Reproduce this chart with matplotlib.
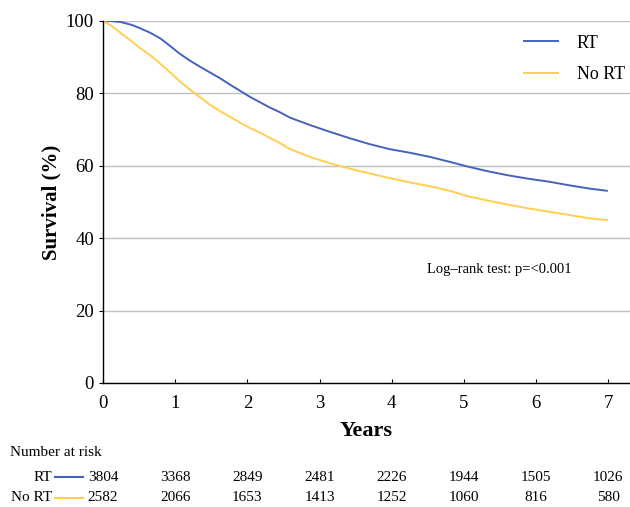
import matplotlib.pyplot as plt
from matplotlib.transforms import blended_transform_factory

plt.rcParams['font.family'] = ['Liberation Serif', 'DejaVu Serif']

# Kaplan-Meier curves
years = [0, 0.1, 0.25, 0.4, 0.5, 0.65, 0.8, 0.93, 1.06, 1.2, 1.34, 1.48, 1.62,
         1.76, 1.9, 2.03, 2.17, 2.31, 2.45, 2.59, 2.86, 3.14, 3.42, 3.69, 3.97,
         4.25, 4.52, 4.8, 5.07, 5.35, 5.63, 5.9, 6.18, 6.46, 6.74, 6.98]
rt = [100, 100, 99.7, 98.9, 98.1, 96.8, 95.1, 93.1, 91.0, 89.1, 87.4, 85.8, 84.2,
      82.4, 80.7, 79.1, 77.6, 76.1, 74.8, 73.3, 71.3, 69.4, 67.6, 66, 64.6,
      63.6, 62.5, 61.1, 59.7, 58.4, 57.3, 56.4, 55.6, 54.6, 53.7, 53.1]
no_rt = [100, 98.9, 96.6, 94.3, 92.7, 90.6, 88.1, 85.8, 83.4, 81.1, 79.0, 76.9, 75.1,
         73.5, 71.9, 70.5, 69.2, 67.7, 66.3, 64.6, 62.5, 60.7, 59.2, 57.9, 56.6,
         55.4, 54.4, 53.1, 51.5, 50.3, 49.2, 48.2, 47.3, 46.4, 45.5, 45.0]

risk_years = [0, 1, 2, 3, 4, 5, 6, 7]
risk_rt = [3804, 3368, 2849, 2481, 2226, 1944, 1505, 1026]
risk_no_rt = [2582, 2066, 1653, 1413, 1252, 1060, 816, 580]

blue = '#4563BD'
yellow = '#FFCF4F'

fig = plt.figure(figsize=(6.3, 5.07), dpi=100)
ax = fig.add_axes([0.1635, 0.2446, 0.8365, 0.714])

ax.plot(years, rt, color=blue, lw=1.4, label='RT')
ax.plot(years, no_rt, color=yellow, lw=1.4, label='No RT')

ax.set_xlim(0, 7.3)
ax.set_ylim(0, 100)
ax.set_xticks(range(8))
ax.set_yticks(range(0, 101, 20))
ax.grid(axis='y', color='#c0c0c0', lw=1)
ax.set_axisbelow(True)
for s in ['top', 'right']:
    ax.spines[s].set_visible(False)
ax.spines['left'].set_linewidth(1.0)
ax.spines['bottom'].set_linewidth(1.0)
ax.tick_params(axis='x', direction='in', length=3, labelsize=13.5, pad=9)
ax.tick_params(axis='y', direction='out', length=3, labelsize=13.5)

ax.set_xlabel('Years', fontsize=16, fontweight='bold', labelpad=6)
ax.set_ylabel('Survival (%)', fontsize=15, fontweight='bold', labelpad=3)

leg = ax.legend(loc='upper right', bbox_to_anchor=(1.021, 1.007), frameon=False,
                fontsize=13, handlelength=1.85, labelspacing=0.8, handletextpad=1.05)

ax.text(0.614, 0.305, 'Log\u2013rank test: p=<0.001', transform=ax.transAxes,
        fontsize=10.5)

# number at risk table
tr = blended_transform_factory(ax.transData, fig.transFigure)
fig.text(0.016, 0.1, 'Number at risk', fontsize=11)
rows = [('RT', risk_rt, blue, 0.0585), ('No RT', risk_no_rt, yellow, 0.0185)]
for name, counts, col, yy in rows:
    fig.text(0.083, yy, name, fontsize=11, ha='right', va='center')
    fig.add_artist(plt.Line2D([0.088, 0.132], [yy, yy], color=col, lw=1.5,
                              transform=fig.transFigure))
    for x, n in zip(risk_years, counts):
        ax.text(x, yy, str(n), transform=tr, fontsize=11, ha='center',
                va='center', clip_on=False)

fig.savefig('out.png', dpi=100)
